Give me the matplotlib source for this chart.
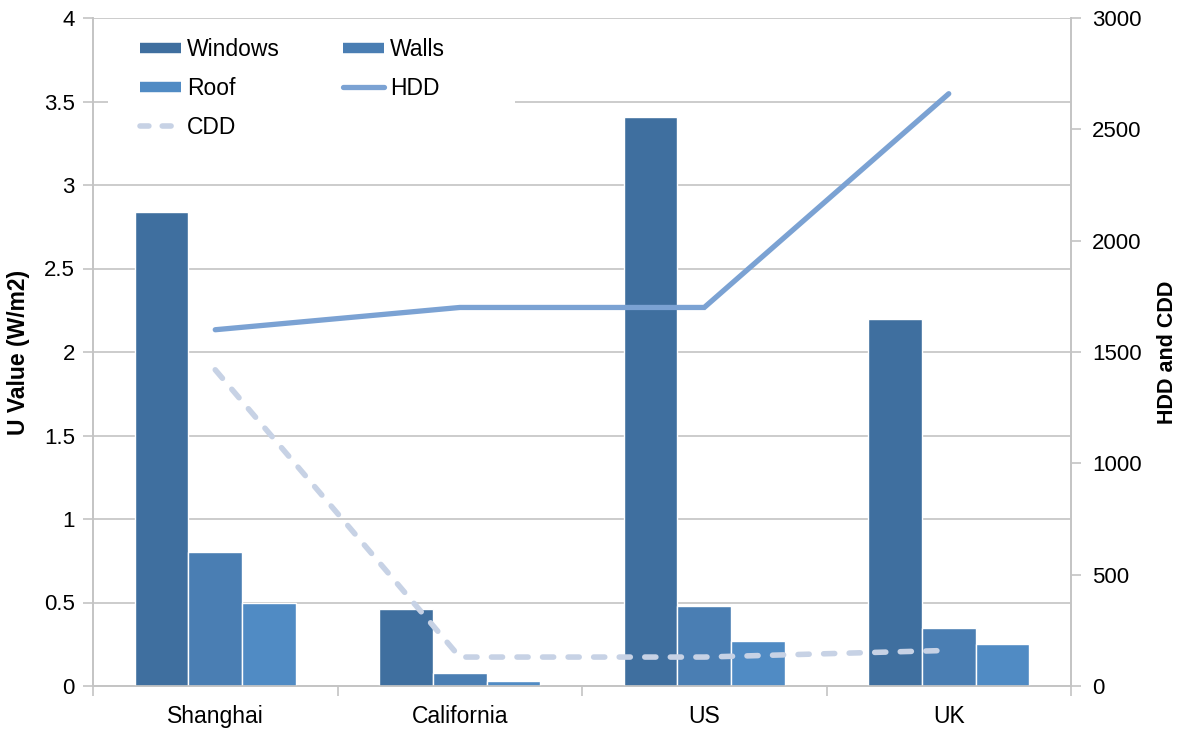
import matplotlib
matplotlib.use("Agg")
import matplotlib.pyplot as plt
from matplotlib.lines import Line2D
from matplotlib.patches import Rectangle
import numpy as np

plt.rcParams['font.family'] = ['Liberation Sans', 'DejaVu Sans']

# Data
regions = ["Shanghai", "California", "US", "UK"]
windows = [2.84, 0.46, 3.41, 2.20]
walls = [0.80, 0.08, 0.48, 0.35]
roof = [0.50, 0.03, 0.27, 0.25]
hdd = [1600, 1700, 1700, 2660]
cdd = [1420, 130, 130, 160]

c_windows = "#3F6F9F"
c_walls = "#4A7EB3"
c_roof = "#508BC4"
c_hdd = "#7BA2D3"
c_cdd = "#C7D2E5"
grid_c = "#C4C4C4"

W, H = 1180, 729
fig = plt.figure(figsize=(W / 100, H / 100), dpi=100)
ax = fig.add_axes([93 / W, 43 / H, (1071 - 93) / W, (686 - 18) / H])
ax2 = ax.twinx()

x = np.arange(len(regions))
w = 0.219
ax.bar(x - w, windows, w, color=c_windows, edgecolor="white", linewidth=1, zorder=3)
ax.bar(x, walls, w, color=c_walls, edgecolor="white", linewidth=1, zorder=3)
ax.bar(x + w, roof, w, color=c_roof, edgecolor="white", linewidth=1, zorder=3)

ax.set_xlim(-0.5, len(regions) - 0.5)
ax.set_ylim(0, 4)
ax.set_yticks(np.arange(0, 4.01, 0.5))
ax.set_yticklabels(["0", "0.5", "1", "1.5", "2", "2.5", "3", "3.5", "4"])
ax.yaxis.grid(True, color=grid_c, linewidth=1.2, zorder=0)
ax.set_axisbelow(True)

ax.set_xticks(x)
ax.set_xticklabels(regions)
ax.set_xticks(np.arange(-0.5, len(regions)), minor=True)
ax.tick_params(axis="x", which="major", length=0, pad=13.5, labelsize=16.5)
ax.tick_params(axis="x", which="minor", length=7, width=1.2, color=grid_c)
ax.tick_params(axis="y", length=7, width=1.2, color=grid_c, labelsize=16, pad=6)

dash = (2.0, 2.6)
ax2.plot(x, hdd, color=c_hdd, linewidth=3.8, solid_capstyle="round",
         solid_joinstyle="miter", zorder=4)
ax2.plot(x, cdd, color=c_cdd, linewidth=4.0, dashes=dash,
         dash_capstyle="round", zorder=4)
ax2.set_ylim(0, 3000)
ax2.set_yticks(np.arange(0, 3001, 500))
ax2.tick_params(axis="y", length=7, width=1.2, color=grid_c, labelsize=16, pad=8)

for a in (ax, ax2):
    for side in ("left", "right", "bottom"):
        a.spines[side].set_color(grid_c)
        a.spines[side].set_linewidth(1.2)
    a.spines["top"].set_visible(False)

ax.set_ylabel("U Value (W/m2)", fontsize=16.5, fontweight="bold", labelpad=10)
ax2.set_ylabel("HDD and CDD", fontsize=15.5, fontweight="bold", rotation=90, labelpad=11)

# White backing behind the legend, hiding the gridlines there
ax2.add_patch(Rectangle(((108 - 93) / 978, (686 - 150) / 668), (515 - 108) / 978,
                        (150 - 22) / 668, transform=ax2.transAxes,
                        facecolor="white", edgecolor="none", zorder=1))

handles = [
    Line2D([], [], color=c_windows, linewidth=7.5, solid_capstyle="butt"),
    Line2D([], [], color=c_roof, linewidth=7.5, solid_capstyle="butt"),
    Line2D([], [], color=c_cdd, linewidth=4.0, dashes=(1.6, 2.4), dash_capstyle="round"),
    Line2D([], [], color=c_walls, linewidth=7.5, solid_capstyle="butt"),
    Line2D([], [], color=c_hdd, linewidth=3.8, solid_capstyle="round"),
]
labels = ["Windows", "Roof", "CDD", "Walls", "HDD"]
leg = ax2.legend(handles, labels, ncol=2, loc="upper left",
                 bbox_to_anchor=((140 - 93) / 978, (686 - 38) / 668),
                 frameon=False, fontsize=16.5, borderpad=0, borderaxespad=0,
                 handlelength=1.8, handletextpad=0.25, columnspacing=2.75,
                 labelspacing=0.7)
leg.set_zorder(5)

fig.savefig("out.png", dpi=100, facecolor="white")
